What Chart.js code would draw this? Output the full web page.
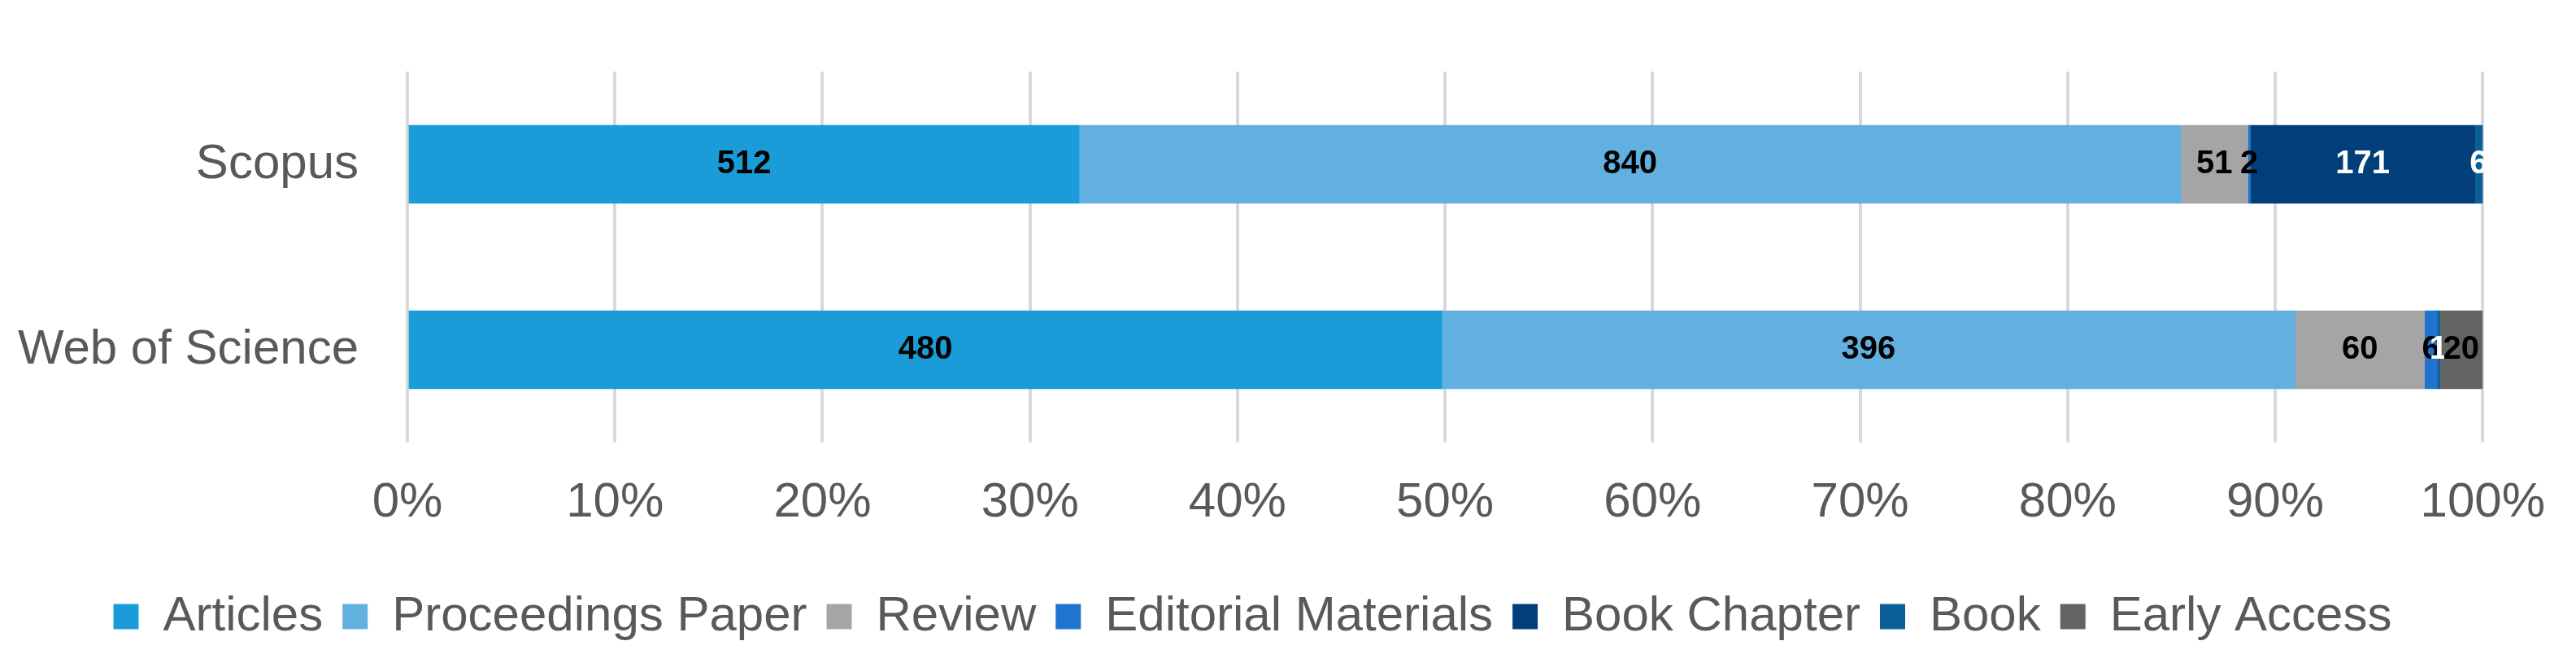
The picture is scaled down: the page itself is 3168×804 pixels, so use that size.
<!DOCTYPE html>
<html>
<head>
<meta charset="utf-8">
<script src="https://cdn.jsdelivr.net/npm/chart.js@4"></script>
<style>
  html, body { margin: 0; padding: 0; background: #fff; }
  #wrap { width: 3168px; height: 804px; }
</style>
</head>
<body>
<div id="wrap"><canvas id="chart" width="3168" height="804"></canvas></div>
<script>
// sources and document-type counts
const sources = ['Scopus', 'Web of Science'];
const docTypes = ['Articles', 'Proceedings Paper', 'Review', 'Editorial Materials', 'Book Chapter', 'Book', 'Early Access'];
const scopusCounts = [512, 840, 51, 2, 171, 6, 0];
const wosCounts = [480, 396, 60, 6, 0, 1, 20];
const xTicks = ['0%', '10%', '20%', '30%', '40%', '50%', '60%', '70%', '80%', '90%', '100%'];

const colors = ['#1a9cd8', '#62b0e0', '#a5a5a5', '#1f74cf', '#023f7a', '#0a5f98', '#636363'];
const labelColors = ['#000', '#000', '#000', '#000', '#fff', '#fff', '#000'];

const totals = [scopusCounts, wosCounts].map(a => a.reduce((s, v) => s + v, 0));

const datasets = docTypes.map((name, i) => ({
    label: name,
    counts: [scopusCounts[i], wosCounts[i]],
    data: [scopusCounts[i] / totals[0] * 100, wosCounts[i] / totals[1] * 100],
    backgroundColor: colors[i],
    barThickness: 96
}));

// draw the raw counts in the middle of each segment
const countLabels = {
    id: 'countLabels',
    afterDatasetsDraw(chart) {
        const ctx = chart.ctx;
        ctx.save();
        ctx.font = 'bold 40px Arial, "Liberation Sans", sans-serif';
        ctx.textAlign = 'center';
        ctx.textBaseline = 'middle';
        chart.data.datasets.forEach((ds, i) => {
            chart.getDatasetMeta(i).data.forEach((bar, j) => {
                const c = ds.counts[j];
                if (!c) return;
                ctx.fillStyle = labelColors[i];
                ctx.fillText(String(c), (bar.x + bar.base) / 2, bar.y);
            });
        });
        ctx.restore();
    }
};

Chart.defaults.font.family = 'Arial, "Liberation Sans", sans-serif';
Chart.defaults.color = '#595959';

new Chart(document.getElementById('chart'), {
    type: 'bar',
    data: { labels: sources, datasets: datasets },
    plugins: [countLabels],
    options: {
        indexAxis: 'y',
        responsive: false,
        animation: false,
        devicePixelRatio: 1,
        layout: { padding: { top: 0, right: 87, bottom: 6, left: 0 } },
        plugins: {
            tooltip: { enabled: false },
            legend: {
                position: 'bottom',
                labels: { font: { size: 60 }, boxWidth: 31, boxHeight: 31, padding: 24, color: '#595959' }
            }
        },
        scales: {
            x: {
                stacked: true,
                min: 0,
                max: 100,
                border: { display: false },
                grid: { color: '#d9d9d9', lineWidth: 4, drawTicks: false },
                ticks: {
                    stepSize: 10,
                    padding: 38,
                    font: { size: 60 },
                    callback: (v, idx) => xTicks[idx]
                },
                afterFit: s => { s.height = 160; }
            },
            y: {
                stacked: true,
                border: { display: false },
                grid: { display: false },
                ticks: { font: { size: 60 }, padding: 52, color: '#595959' },
                afterFit: s => { s.width = 501; }
            }
        }
    }
});
</script>
</body>
</html>
